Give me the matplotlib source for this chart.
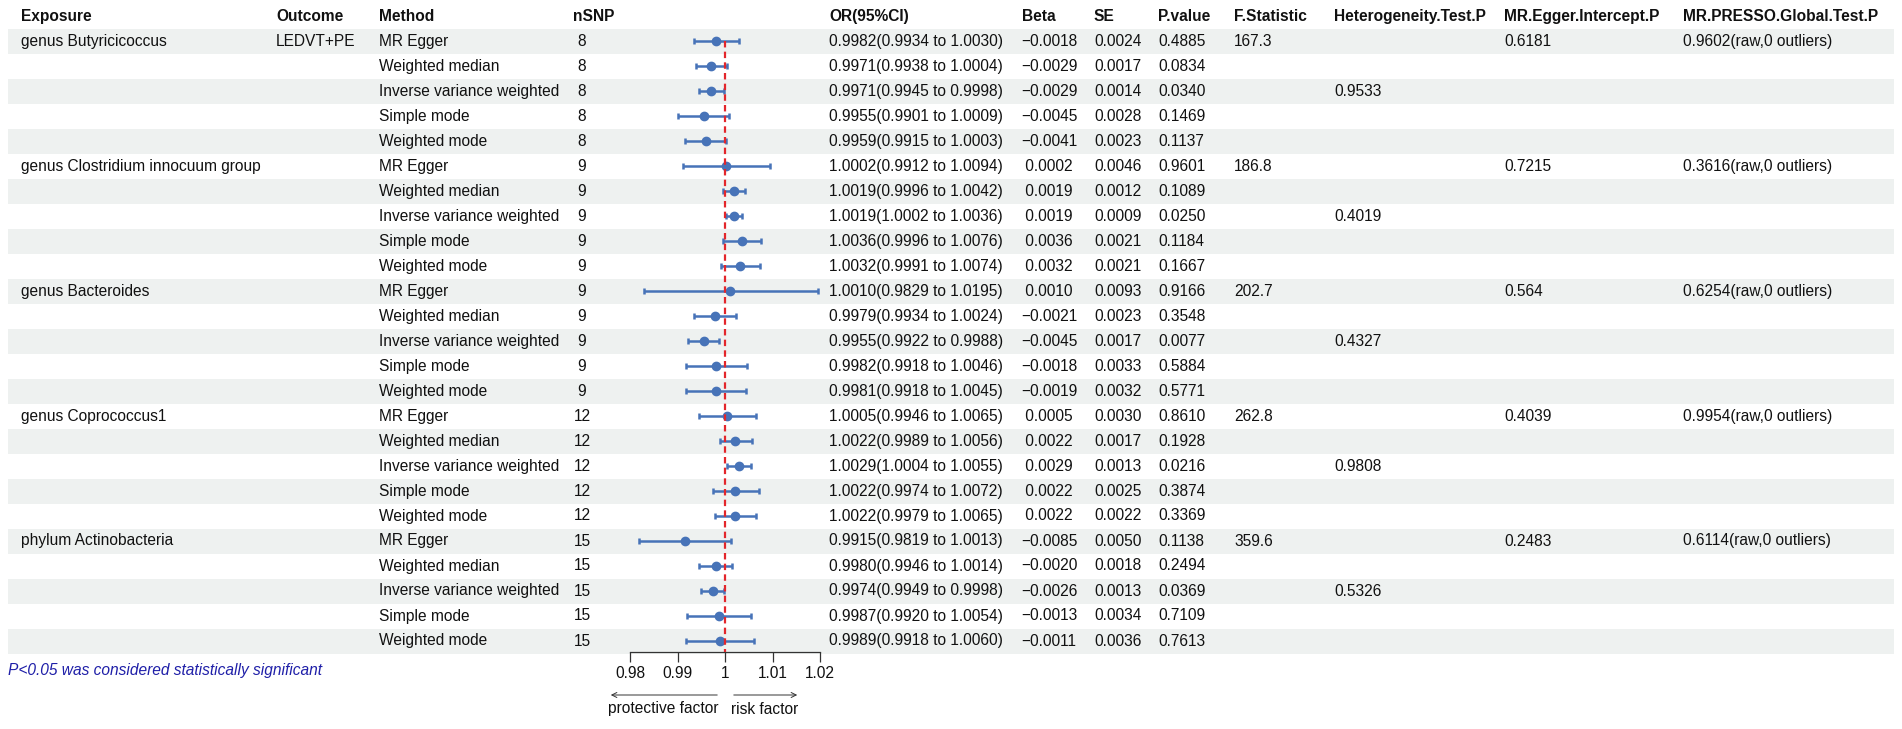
import matplotlib
matplotlib.use("Agg")
import matplotlib.pyplot as plt
import numpy as np

plt.rcParams['font.family'] = ['Liberation Sans', 'DejaVu Sans']

# ---- data ----
exposures = ["genus Butyricicoccus", "genus Clostridium innocuum group", "genus Bacteroides",
             "genus Coprococcus1", "phylum Actinobacteria"]
outcome = "LEDVT+PE"
methods = ["MR Egger", "Weighted median", "Inverse variance weighted", "Simple mode", "Weighted mode"]
nsnp = [8, 9, 9, 12, 15]

or_est = [0.9982, 0.9971, 0.9971, 0.9955, 0.9959,
          1.0002, 1.0019, 1.0019, 1.0036, 1.0032,
          1.0010, 0.9979, 0.9955, 0.9982, 0.9981,
          1.0005, 1.0022, 1.0029, 1.0022, 1.0022,
          0.9915, 0.9980, 0.9974, 0.9987, 0.9989]
or_lo = [0.9934, 0.9938, 0.9945, 0.9901, 0.9915,
         0.9912, 0.9996, 1.0002, 0.9996, 0.9991,
         0.9829, 0.9934, 0.9922, 0.9918, 0.9918,
         0.9946, 0.9989, 1.0004, 0.9974, 0.9979,
         0.9819, 0.9946, 0.9949, 0.9920, 0.9918]
or_hi = [1.0030, 1.0004, 0.9998, 1.0009, 1.0003,
         1.0094, 1.0042, 1.0036, 1.0076, 1.0074,
         1.0195, 1.0024, 0.9988, 1.0046, 1.0045,
         1.0065, 1.0056, 1.0055, 1.0072, 1.0065,
         1.0013, 1.0014, 0.9998, 1.0054, 1.0060]
beta = [-0.0018, -0.0029, -0.0029, -0.0045, -0.0041,
        0.0002, 0.0019, 0.0019, 0.0036, 0.0032,
        0.0010, -0.0021, -0.0045, -0.0018, -0.0019,
        0.0005, 0.0022, 0.0029, 0.0022, 0.0022,
        -0.0085, -0.0020, -0.0026, -0.0013, -0.0011]
se = [0.0024, 0.0017, 0.0014, 0.0028, 0.0023,
      0.0046, 0.0012, 0.0009, 0.0021, 0.0021,
      0.0093, 0.0023, 0.0017, 0.0033, 0.0032,
      0.0030, 0.0017, 0.0013, 0.0025, 0.0022,
      0.0050, 0.0018, 0.0013, 0.0034, 0.0036]
pval = [0.4885, 0.0834, 0.0340, 0.1469, 0.1137,
        0.9601, 0.1089, 0.0250, 0.1184, 0.1667,
        0.9166, 0.3548, 0.0077, 0.5884, 0.5771,
        0.8610, 0.1928, 0.0216, 0.3874, 0.3369,
        0.1138, 0.2494, 0.0369, 0.7109, 0.7613]
f_stat = ["167.3", "186.8", "202.7", "262.8", "359.6"]
het_p = ["0.9533", "0.4019", "0.4327", "0.9808", "0.5326"]
egger_p = ["0.6181", "0.7215", "0.564", "0.4039", "0.2483"]
presso_p = ["0.9602", "0.3616", "0.6254", "0.9954", "0.6114"]

headers = ["Exposure", "Outcome", "Method", "nSNP", "OR(95%CI)", "Beta", "SE", "P.value",
           "F.Statistic", "Heterogeneity.Test.P", "MR.Egger.Intercept.P", "MR.PRESSO.Global.Test.P"]
xticks = [0.98, 0.99, 1, 1.01, 1.02]
xticklabels = ["0.98", "0.99", "1", "1.01", "1.02"]

# ---- layout (pixels) ----
W, H = 1902, 729
col_x = [21, 276, 379, 573, 829, 1022, 1094, 1158, 1234, 1334, 1504, 1683]
row0, pitch = 41, 25.0
head_y = 16
fs = 11.2
txt = '#111111'
band = '#eef1f0'
blue = '#4773b8'

fig = plt.figure(figsize=(W / 100, H / 100), dpi=100)
bg = fig.add_axes([0, 0, 1, 1])
bg.set_xlim(0, W)
bg.set_ylim(H, 0)
bg.axis('off')

n = len(or_est)
rows_y = row0 + np.arange(n) * pitch

for i in range(0, n, 2):
    bg.axhspan(rows_y[i] - pitch / 2, rows_y[i] + pitch / 2, xmin=8 / W, xmax=1894 / W,
               color=band, lw=0, zorder=0)

for x, h in zip(col_x, headers):
    bg.text(x, head_y, h, fontsize=fs, fontweight='bold', va='center', ha='left', color=txt)


def fmt(v):
    return f"{v: .4f}".replace('-', '\u2212')


for i in range(n):
    y = rows_y[i]
    g, m = divmod(i, 5)
    if m == 0:
        bg.text(col_x[0], y, exposures[g], fontsize=fs, va='center', color=txt)
        bg.text(col_x[8], y, f_stat[g], fontsize=fs, va='center', color=txt)
        bg.text(col_x[10], y, egger_p[g], fontsize=fs, va='center', color=txt)
        bg.text(col_x[11], y, presso_p[g] + "(raw,0 outliers)", fontsize=fs, va='center', color=txt)
        if g == 0:
            bg.text(col_x[1], y, outcome, fontsize=fs, va='center', color=txt)
    if m == 2:
        bg.text(col_x[9], y, het_p[g], fontsize=fs, va='center', color=txt)
    bg.text(col_x[2], y, methods[m], fontsize=fs, va='center', color=txt)
    bg.text(582, y, str(nsnp[g]), fontsize=fs, va='center', ha='center', color=txt)
    bg.text(col_x[4], y, f"{or_est[i]:.4f}({or_lo[i]:.4f} to {or_hi[i]:.4f})",
            fontsize=fs, va='center', color=txt)
    bg.text(col_x[5] - 1, y, fmt(beta[i]), fontsize=fs, va='center', color=txt)
    bg.text(col_x[6], y, f"{se[i]:.4f}", fontsize=fs, va='center', color=txt)
    bg.text(col_x[7], y, f"{pval[i]:.4f}", fontsize=fs, va='center', color=txt)

bg.text(8, 670, "P<0.05 was considered statistically significant", fontsize=fs,
        style='italic', color='#1f1fa8', va='center')

# ---- forest panel ----
ax_top, ax_bot = row0 - pitch / 2, 652
ax_l, ax_r = 630, 820
ax = fig.add_axes([ax_l / W, 1 - ax_bot / H, (ax_r - ax_l) / W, (ax_bot - ax_top) / H])
ax.patch.set_alpha(0)
rows = np.arange(1, n + 1)
ymax = 0.5 + (ax_bot - ax_top) / pitch
ax.set_xlim(0.98, 1.02)
ax.set_ylim(ymax, 0.5)
est = np.array(or_est)
ax.errorbar(est, rows, xerr=[est - np.array(or_lo), np.array(or_hi) - est], fmt='o',
            color=blue, ms=6.0, elinewidth=1.8, capsize=2.2, capthick=1.8, zorder=3,
            clip_on=False)
ax.plot([1, 1], [1, ymax], color='#e3262b', lw=1.6, ls=(0, (2.9, 1.9)), zorder=4)
for s in ['top', 'right', 'left']:
    ax.spines[s].set_visible(False)
ax.spines['bottom'].set_linewidth(0.9)
ax.spines['bottom'].set_color('#333333')
ax.set_yticks([])
ax.set_xticks(xticks)
ax.set_xticklabels(xticklabels, fontsize=fs, color=txt)
ax.tick_params(axis='x', length=7, width=0.9, color='#333333', pad=3)

# arrows under the axis
bg.annotate("", xy=(608, 695), xytext=(720, 695),
            arrowprops=dict(arrowstyle='->', lw=0.7, color='#333333', mutation_scale=9))
bg.annotate("", xy=(800, 695), xytext=(731, 695),
            arrowprops=dict(arrowstyle='->', lw=0.7, color='#333333', mutation_scale=9))
bg.text(608, 709, "protective factor", fontsize=fs, va='center', color=txt)
bg.text(731, 709, "risk factor", fontsize=fs, va='center', color=txt)

fig.savefig("out.png", dpi=100)
